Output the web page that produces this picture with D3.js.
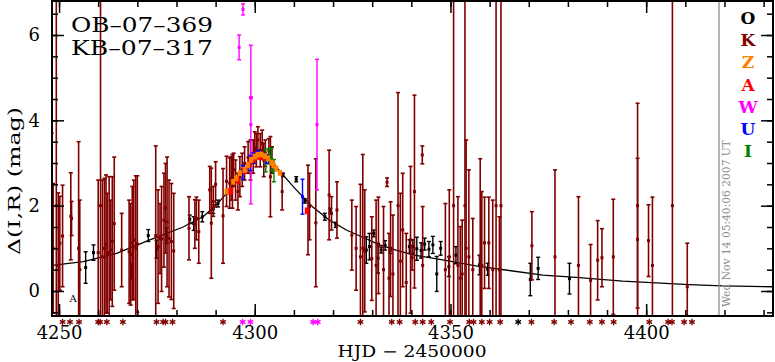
<!DOCTYPE html>
<html>
<head>
<meta charset="utf-8">
<script src="https://cdn.jsdelivr.net/npm/d3@7/dist/d3.min.js"></script>
<style>
body { margin: 0; background: #fff; }
text { font-family: "DejaVu Serif", serif; }
</style>
</head>
<body>
<div id="plot"></div>
<script>
// [HJD-2450000, delta mag, error]
var kPts = [
  [4248.1,1.2,2.5],[4248.5,1.0,1.52],[4249.3,2.0,9],[4249.8,0.6,1.7],[4250.2,1.12,1.1],[4250.9,1.29,1.19],
  [4253.0,1.75,1.02],[4253.2,1.7,0.4],[4255.0,1.0,2.5],[4255.3,0.5,1.63],
  [4260.0,0.9,1.7],[4260.6,2.0,9],[4261.1,0.8,1.8],[4261.6,1.0,1.64],[4262.0,1.1,1.62],[4262.3,0.89,1.4],
  [4262.8,0.9,1.78],[4263.2,0.96,1.17],[4263.6,1.16,1.52],[4264.1,1.58,1.56],
  [4266.0,0.96,0.86],[4267.9,0.92,1.21],[4268.3,0.86,1.19],[4268.7,1.12,1.33],[4269.1,1.2,1.4],[4269.6,1.0,1.7],[4270.0,1.1,1.6],
  [4274.7,1.3,2.1],[4275.3,1.04,1.33],[4275.8,1.23,0.82],[4276.2,1.22,1.23],[4276.8,1.66,1.1],[4277.2,1.94,1.05],
  [4277.6,1.62,1.52],[4278.1,1.23,1.37],[4278.7,1.16,1.36],[4279.3,0.94,1.35],
  [4283.2,1.47,0.74],[4284.7,1.57,0.57],[4285.1,1.7,0.5],[4285.7,1.39,0.74],[4288.5,2.37,0.55],[4288.9,1.59,1.29],
  [4289.4,2.1,0.35],[4290.0,2.5,0.53],[4291.9,1.76,1.11],[4292.8,2.57,0.59],[4293.6,2.53,0.59],[4294.3,2.57,0.63],
  [4294.0,2.64,0.51],[4294.6,2.84,0.39],[4295.1,2.6,0.47],[4295.7,2.33,0.43],[4296.2,2.68,0.47],[4296.8,2.84,0.39],
  [4297.4,2.99,0.39],[4298.3,3.13,0.37],[4298.9,3.07,0.47],[4299.6,3.15,0.39],[4300.0,3.36,0.37],[4300.4,3.3,0.39],
  [4300.8,3.54,0.31],[4301.4,3.3,0.39],[4301.9,3.46,0.31],[4302.3,3.07,0.39],[4302.7,3.23,0.31],[4303.6,3.28,0.29],
  [4304.0,2.68,0.94],[4304.4,3.07,0.31],[4307.0,2.33,0.43],
  [4313.6,1.9,1.05],[4314.0,1.98,0.78],[4315.6,1.6,1.5],[4319.0,2.25,1.05],[4319.6,1.82,0.39],[4321.0,1.9,0.66],
  [4324.8,1.31,0.82],[4325.9,1.0,0.98],[4327.0,0.8,1.7],[4327.6,1.0,2.2],[4328.1,0.94,1.43],[4329.9,0.76,0.98],
  [4331.0,0.6,1.53],[4331.6,1.07,1.13],[4332.9,0.5,1.48],[4333.8,2.55,0.1],[4334.3,0.3,1.05],[4334.7,0.98,1.11],
  [4335.3,0.4,1.38],[4336.6,2.0,2.65],[4337.2,0.7,1.59],[4337.8,1.43,1.33],[4338.7,0.2,1.15],[4340.2,0.78,0.29],
  [4339.8,1.2,1.72],[4340.8,2.33,2.26],[4342.8,3.19,0.21],[4342.9,0.6,1.38],[4348.7,0.5,1.55],[4349.7,0.8,1.57],
  [4350.8,2.0,9],[4351.9,0.6,1.61],[4352.5,0.3,1.21],[4353.0,0.4,1.26],[4353.7,2.0,9],[4354.0,1.0,2.54],
  [4354.7,0.8,2.04],[4355.7,0.5,1.2],[4357.6,0.8,2.3],[4358.0,0.6,1.73],[4358.7,1.13,1.07],[4359.8,1.13,1.07],
  [4360.8,0.5,1.63],[4361.65,2.0,9],[4362.5,0.5,1.24],[4362.9,2.0,9],[4370.8,1.06,0.8],[4376.7,0.8,2.04],
  [4382.7,0.6,1.61],[4385.8,0.25,0.84],[4387.6,0.72,0.93],[4388.7,0.78,0.68],[4391.6,0.8,1.35],
  [4397.8,2.0,2.4],[4397.8,1.21,1.9],[4400.6,1.18,0.84],[4401.6,0.6,1.6],[4406.7,2.0,9],[4410.5,0.1,1.02]
];
var oPts = [
  [4256.8,0.55,0.37],[4258.8,0.9,0.18],[4268.5,0.47,0.18],[4272.8,1.3,0.14],[4274.9,0.98,0.21],[4277.5,1.3,0.18],
  [4283.4,1.68,0.1],[4284.4,1.58,0.16],[4286.6,1.74,0.12],[4289.4,1.92,0.1],[4290.6,2.05,0.08],
  [4307.2,2.72,0.04],[4310.6,2.62,0.06],[4312.8,2.11,0.05],[4317.9,1.74,0.08],[4319.3,1.88,0.06],[4320.7,1.55,0.06],
  [4328.5,0.96,0.31],[4329.3,1.04,0.31],[4330.4,1.35,0.08],[4331.5,0.77,0.35],[4332.3,0.96,0.07],[4333.3,1.07,0.11],
  [4334.6,0.95,0.07],[4339.5,1.04,0.16],[4340.4,1.04,0.16],[4341.4,0.99,0.27],[4342.5,0.95,0.18],[4343.4,1.1,0.14],
  [4344.5,0.98,0.18],[4345.5,1.08,0.2],[4346.5,0.4,0.41],[4347.5,1.0,0.16],[4349.6,0.57,0.23],[4351.4,0.84,0.2],
  [4357.4,0.61,0.23],[4359.5,0.51,0.14],[4370.4,0.27,0.38],[4372.4,0.53,0.26],[4380.4,0.29,0.36]
];
var zPts = [
  [4292.8,2.33,0.05],[4294.5,2.56,0.05],[4295.3,2.64,0.05],[4296.2,2.76,0.05],[4297.4,2.84,0.05],[4298.3,2.95,0.05],
  [4299.1,3.07,0.05],[4300.0,3.15,0.05],[4300.8,3.19,0.05],[4301.7,3.2,0.05],[4302.6,3.16,0.05],[4303.4,3.11,0.05],
  [4304.3,3.01,0.05],[4304.8,2.95,0.05],[4305.5,2.87,0.05],[4306.4,2.77,0.05]
];
var aPts = [
  [4293.6,2.33,0.06],[4294.0,2.35,0.06],[4295.7,2.6,0.06],[4297.4,2.82,0.06],[4298.7,2.98,0.06],[4299.7,3.09,0.06],
  [4300.6,3.16,0.06],[4301.4,3.15,0.06],[4302.3,3.13,0.06],[4313.3,1.88,0.06]
];
var wPts = [[4296.0,5.71,0.29],[4297.0,6.6,0.13],[4299.0,3.9,1.86],[4299.0,4.53,0.02],[4315.9,3.9,1.53]];
var uPts = [
  [4297.0,2.78,0.16],[4298.9,3.0,0.18],[4299.6,3.12,0.12],[4300.8,3.23,0.07],[4301.7,3.18,0.07],[4303.0,3.09,0.1],
  [4312.2,2.21,0.41]
];
var iPts = [[4302.8,3.06,0.27],[4303.7,3.16,0.18],[4304.3,3.08,0.27],[4304.9,2.82,0.26]];

// points below the plotted range
var kLow = [4250.9,4252.8,4255.1,4260.0,4260.5,4262.2,4266.3,4274.9,4276.6,4277.2,4279.0,4291.9,
  4327.0,4335.0,4337.0,4341.0,4342.9,4345.1,4349.9,4354.8,4355.9,4358.0,4360.0,4362.7,
  4370.7,4376.5,4380.8,4385.6,4388.7,4391.7,4400.8,4405.6,4406.6,4409.7,4411.7];
var oLow = [4367.3];
var wLow = [4296.9,4298.9,4314.9,4316.1];

// model curve
var modelT = [4248.2,4256.2,4264.7,4273.2,4281.7,4286.8,4290.2,4293.6,4297.0,4300.0,4302.2,4304.7,4307.2,4310.6,
  4314.9,4319.1,4323.4,4327.6,4331.9,4336.1,4340.8,4348.0,4356.5,4365.0,4373.6,4382.1,4394.0,4402.5,4411.0,4419.5,4432.4];
var modelMag = [0.6,0.69,0.88,1.2,1.5,1.74,2.02,2.37,2.76,3.15,3.32,3.0,2.72,2.37,
  1.96,1.66,1.43,1.26,1.08,0.96,0.84,0.73,0.59,0.48,0.37,0.32,0.23,0.19,0.15,0.12,0.1];

var xTicks = [4250, 4300, 4350, 4400];
var yTicks = [0, 2, 4, 6];
var legendLabels = ["O", "K", "Z", "A", "W", "U", "I"];
var titleLines = ["OB\u201307\u2013369", "KB\u201307\u2013317"];
var stamp = "Wed Nov 14 05:40:06 2007 UT";

var colors = {O: "#000000", K: "#800000", Z: "#ff8000", A: "#ff0000", W: "#ff00ff", U: "#0000ff", I: "#008000"};

var W = 775, H = 362;
var pl = 52, pr = 773, pt = 1, pb = 316;

var x = d3.scaleLinear().domain([4248.2, 4432.4]).range([pl, pr]);
var y = d3.scaleLinear().domain([-0.586, 6.797]).range([pb, pt]);

var svg = d3.select("#plot").append("svg")
  .attr("width", W).attr("height", H)
  .style("display", "block");

svg.append("defs").append("clipPath").attr("id", "clip")
  .append("rect").attr("x", pl).attr("y", pt).attr("width", pr - pl).attr("height", pb - pt);

var plot = svg.append("g").attr("clip-path", "url(#clip)");

// model
var line = d3.line().x(function(d) { return x(d[0]); }).y(function(d) { return y(d[1]); });
plot.append("path")
  .attr("d", line(modelT.map(function(t, i) { return [t, modelMag[i]]; })))
  .attr("fill", "none").attr("stroke", "#000").attr("stroke-width", 1.3);

function drawBars(pts, color, sw, dot) {
  var g = plot.append("g").attr("stroke", color).attr("stroke-width", sw);
  var e = g.selectAll(null).data(pts).enter();
  e.append("line")
    .attr("x1", function(d) { return x(d[0]); }).attr("x2", function(d) { return x(d[0]); })
    .attr("y1", function(d) { return y(d[1] + d[2]); }).attr("y2", function(d) { return y(d[1] - d[2]); });
  e.append("line")
    .attr("x1", function(d) { return x(d[0]) - 2; }).attr("x2", function(d) { return x(d[0]) + 2; })
    .attr("y1", function(d) { return y(d[1] + d[2]); }).attr("y2", function(d) { return y(d[1] + d[2]); });
  e.append("line")
    .attr("x1", function(d) { return x(d[0]) - 2; }).attr("x2", function(d) { return x(d[0]) + 2; })
    .attr("y1", function(d) { return y(d[1] - d[2]); }).attr("y2", function(d) { return y(d[1] - d[2]); });
  e.append("rect")
    .attr("x", function(d) { return x(d[0]) - dot / 2; }).attr("y", function(d) { return y(d[1]) - dot / 2; })
    .attr("width", dot).attr("height", dot).attr("fill", color).attr("stroke", "none");
}

drawBars(oPts, colors.O, 1.4, 3);
drawBars(kPts, colors.K, 1.6, 3);
drawBars(wPts, colors.W, 1.4, 3);
drawBars(iPts, colors.I, 1.4, 3);
drawBars(uPts, colors.U, 1.4, 3);
drawBars(aPts, colors.A, 1.6, 4);
drawBars(zPts, colors.Z, 1.6, 4);

// off-scale markers under the frame
function star(cx, cy) {
  var r = 3.2;
  return "M" + cx + "," + (cy - r) + "L" + cx + "," + (cy + r) +
    "M" + (cx - r * 0.87) + "," + (cy - r * 0.5) + "L" + (cx + r * 0.87) + "," + (cy + r * 0.5) +
    "M" + (cx - r * 0.87) + "," + (cy + r * 0.5) + "L" + (cx + r * 0.87) + "," + (cy - r * 0.5);
}
[[kLow, colors.K], [oLow, colors.O], [wLow, colors.W]].forEach(function(s) {
  svg.append("g").selectAll(null).data(s[0]).enter().append("path")
    .attr("d", function(t) { return star(x(t), 322); })
    .attr("stroke", s[1]).attr("stroke-width", 1.3).attr("fill", "none");
});

// timestamp line and text
svg.append("line").attr("x1", 719).attr("x2", 719).attr("y1", pt).attr("y2", pb)
  .attr("stroke", "#8c8c8c").attr("stroke-width", 1.3);
svg.append("text")
  .attr("transform", "translate(730,307) rotate(-90)")
  .attr("textLength", 167).attr("lengthAdjust", "spacingAndGlyphs")
  .style("font-size", "11.5px").style("fill", "#8c8c8c")
  .text(stamp);

// axes
var minorX = d3.range(4250, 4433, 10);
var minorY = d3.range(-0.5, 6.8, 0.5);

function styleAxis(g) {
  g.select(".domain").remove();
  g.selectAll("line").attr("stroke-width", 1.5);
}
svg.append("g").attr("transform", "translate(0," + pb + ")")
  .call(d3.axisBottom(x).tickValues(minorX).tickSize(-6).tickFormat("")).call(styleAxis);
svg.append("g").attr("transform", "translate(0," + pb + ")")
  .call(d3.axisBottom(x).tickValues(xTicks).tickSize(-12).tickPadding(10).tickFormat(d3.format("d")))
  .call(styleAxis)
  .selectAll("text").style("font-size", "18px").style("font-family", "DejaVu Serif").attr("fill", "#000");
svg.append("g").attr("transform", "translate(0," + pt + ")")
  .call(d3.axisTop(x).tickValues(minorX).tickSize(-6).tickFormat("")).call(styleAxis);
svg.append("g").attr("transform", "translate(0," + pt + ")")
  .call(d3.axisTop(x).tickValues(xTicks).tickSize(-12).tickFormat("")).call(styleAxis);

svg.append("g").attr("transform", "translate(" + pl + ",0)")
  .call(d3.axisLeft(y).tickValues(minorY).tickSize(-6).tickFormat("")).call(styleAxis);
svg.append("g").attr("transform", "translate(" + pl + ",0)")
  .call(d3.axisLeft(y).tickValues(yTicks).tickSize(-12).tickPadding(12).tickFormat(d3.format("d")))
  .call(styleAxis)
  .selectAll("text").style("font-size", "18px").style("font-family", "DejaVu Serif").attr("fill", "#000");
svg.append("g").attr("transform", "translate(" + pr + ",0)")
  .call(d3.axisRight(y).tickValues(minorY).tickSize(-6).tickFormat("")).call(styleAxis);
svg.append("g").attr("transform", "translate(" + pr + ",0)")
  .call(d3.axisRight(y).tickValues(yTicks).tickSize(-12).tickFormat("")).call(styleAxis);

// frame
svg.append("rect").attr("x", pl).attr("y", pt).attr("width", pr - pl).attr("height", pb - pt)
  .attr("fill", "none").attr("stroke", "#000").attr("stroke-width", 2);

// axis titles
svg.append("text").attr("x", 412).attr("y", 357).attr("text-anchor", "middle")
  .attr("textLength", 149).attr("lengthAdjust", "spacingAndGlyphs")
  .style("font-size", "16px").text("HJD \u2212 2450000");
svg.append("text").attr("transform", "translate(20,181) rotate(-90)").attr("text-anchor", "middle")
  .attr("textLength", 148).attr("lengthAdjust", "spacingAndGlyphs")
  .style("font-size", "17px").text("\u0394(I,R) (mag)");

// event names
titleLines.forEach(function(s, i) {
  svg.append("text").attr("x", 71).attr("y", 32 + i * 23)
    .attr("textLength", 142).attr("lengthAdjust", "spacingAndGlyphs")
    .style("font-size", "21px").text(s);
});

// little label near the bottom
svg.append("text").attr("x", x(4253.6)).attr("y", y(-0.25)).attr("text-anchor", "middle")
  .style("font-size", "10px").text("A");

// legend
legendLabels.forEach(function(s, i) {
  svg.append("text").attr("x", 748).attr("y", 24 + i * 22.2).attr("text-anchor", "middle")
    .style("font-size", "17px").style("font-weight", "bold").style("fill", colors[s]).text(s);
});
</script>
</body>
</html>
